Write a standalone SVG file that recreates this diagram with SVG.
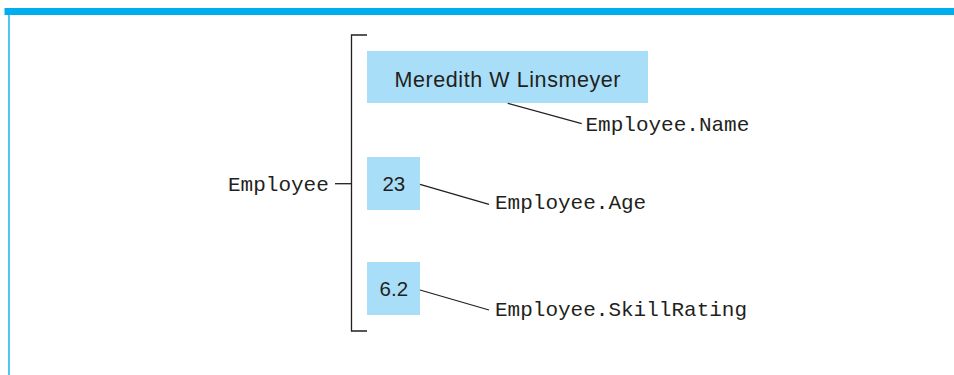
<svg xmlns="http://www.w3.org/2000/svg" width="954" height="375" viewBox="0 0 954 375">
<style>
.box{fill:#A8DEF8}
.sans{font-family:"Liberation Sans",Arial,sans-serif;fill:#231f20}
.mono{font-family:"Liberation Mono","Courier New",monospace;font-size:21px;fill:#231f20}
.ln{stroke:#231f20;stroke-width:1.3;fill:none}
</style>
<rect x="0" y="0" width="954" height="375" fill="#ffffff"/>
<rect x="4.5" y="8" width="950" height="7" fill="#00AEEF"/>
<line x1="9" y1="15" x2="9" y2="375" stroke="#29B6EC" stroke-width="1.6"/>
<g id="employee">
<text class="mono" x="228" y="190.5">Employee</text>
</g>
<g id="name">
<rect class="box" x="367" y="51" width="281" height="52"/>
<text class="sans" x="394.5" y="86.7" font-size="21.5" textLength="226">Meredith W Linsmeyer</text>
</g>
<g id="name-label"><text class="mono" x="585.5" y="130.5">Employee.Name</text></g>
<g id="age">
<rect class="box" x="367" y="157" width="53" height="53"/>
<text class="sans" x="393.8" y="190.7" font-size="20.5" text-anchor="middle">23</text>
</g>
<g id="age-label"><text class="mono" x="495" y="208.5">Employee.Age</text></g>
<g id="skill">
<rect class="box" x="367" y="262" width="53" height="53"/>
<text class="sans" x="393.8" y="296" font-size="20.5" text-anchor="middle">6.2</text>
</g>
<g id="skill-label"><text class="mono" x="495" y="315.5">Employee.SkillRating</text></g>
<g id="connectors">
<path class="ln" d="M367 35H351.5V331H367" stroke-width="1.6"/>
<line class="ln" x1="335" y1="183.7" x2="351.5" y2="183.7"/>
<line class="ln" x1="507.7" y1="103.3" x2="581.7" y2="123.7"/>
<line class="ln" x1="420" y1="184.3" x2="489" y2="204.3"/>
<line class="ln" x1="420" y1="290" x2="489" y2="310"/>
</g>
</svg>
